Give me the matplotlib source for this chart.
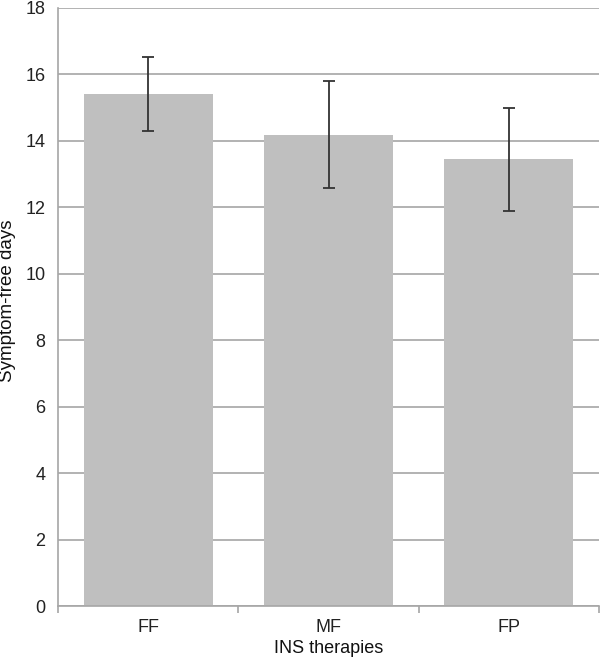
import matplotlib
matplotlib.use("Agg")
from matplotlib import pyplot as plt
import numpy as np

# Symptom-free days per INS therapy
therapies = ["FF", "MF", "FP"]
means = [15.41, 14.19, 13.45]
errors = [1.10, 1.60, 1.55]

plt.rcParams['font.family'] = ['Liberation Sans', 'DejaVu Sans']

fig = plt.figure(figsize=(6, 6.61), dpi=100)
ax = fig.add_axes([0.0967, 0.0832, 0.9017, 0.9047])

x = np.arange(len(therapies))
ax.bar(x, means, width=0.715, color="#bfbfbf", zorder=2)
ax.errorbar(x, means, yerr=errors, fmt="none", ecolor="#333333",
            elinewidth=1.3, capsize=4, capthick=1.3, zorder=3)

ax.set_xlim(-0.5, len(therapies) - 0.5)
ax.set_ylim(0, 18)
ax.set_yticks(np.arange(0, 19, 2))
ax.set_xticks(x)
ax.set_xticklabels(therapies)
ax.set_xticks(np.arange(-0.5, len(therapies), 1), minor=True)

ax.grid(axis="y", color="#a6a6a6", linewidth=1.2, zorder=0)
ax.set_axisbelow(True)

for side in ["top", "right"]:
    ax.spines[side].set_visible(False)
for side in ["left", "bottom"]:
    ax.spines[side].set_color("#a6a6a6")
    ax.spines[side].set_linewidth(1.2)

ax.tick_params(axis="y", length=0, pad=9, labelsize=13, labelcolor="#222222")
ax.tick_params(axis="x", which="major", length=0, pad=9, labelsize=13, labelcolor="#222222")
ax.tick_params(axis="x", which="minor", length=5, color="#a6a6a6", width=1.2)

ax.set_xlabel("INS therapies", fontsize=13, color="#111111", labelpad=3)
ax.set_ylabel("Symptom-free days", fontsize=13.5, color="#111111")
ax.yaxis.set_label_coords(-0.078, 0.51)

fig.savefig("out.png", dpi=100)
